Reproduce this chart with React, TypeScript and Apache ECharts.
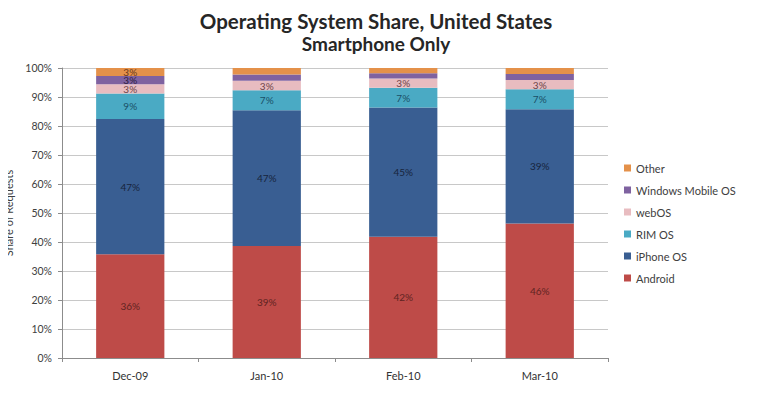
import React, { useEffect, useRef } from "react";
import * as echarts from "echarts";

const categories = ["Dec-09", "Jan-10", "Feb-10", "Mar-10"];
const android = [35.8, 38.6, 41.8, 46.4];
const iphone = [46.6, 46.8, 44.6, 39.4];
const rim = [8.8, 6.9, 6.8, 6.9];
const webos = [3.2, 3.3, 3.2, 3.2];
const winmo = [2.8, 2.2, 1.8, 2.0];
const other = [2.8, 2.2, 1.8, 2.1];
const yTicks = [0, 10, 20, 30, 40, 50, 60, 70, 80, 90, 100];

const FONT = "Lato, 'Open Sans', sans-serif";

const seriesDefs = [
  { name: "Android", data: android, color: "#be4b48", label: "#5e2422" },
  { name: "iPhone OS", data: iphone, color: "#395e92", label: "#17243c" },
  { name: "RIM OS", data: rim, color: "#4aaac4", label: "#1a4f66" },
  { name: "webOS", data: webos, color: "#e8bcc0", label: "#6e4448" },
  { name: "Windows Mobile OS", data: winmo, color: "#7f62a0", label: "#2e2040" },
  { name: "Other", data: other, color: "#e4914a", label: "#6a3a1a" },
];

export default function App() {
  const ref = useRef<HTMLDivElement>(null);
  useEffect(() => {
    if (!ref.current) return;
    const chart = echarts.init(ref.current, null, { renderer: "svg" });
    chart.setOption({
      animation: false,
      backgroundColor: "#ffffff",
      textStyle: { fontFamily: FONT },
      title: {
        text: "Operating System Share, United States",
        subtext: "Smartphone Only",
        left: 371,
        top: 5,
        textAlign: "center",
        itemGap: 3,
        textStyle: { fontFamily: FONT, fontSize: 20.5, fontWeight: "bold", color: "#262626" },
        subtextStyle: { fontFamily: FONT, fontSize: 19, fontWeight: "bold", color: "#262626" },
      },
      legend: {
        orient: "vertical",
        left: 619,
        top: 156,
        itemWidth: 7,
        itemHeight: 7,
        itemGap: 8,
        icon: "rect",
        data: ["Other", "Windows Mobile OS", "webOS", "RIM OS", "iPhone OS", "Android"],
        textStyle: { fontFamily: FONT, fontSize: 11, color: "#404040", lineHeight: 14 },
      },
      grid: { left: 62, right: 172, top: 68, bottom: 42, containLabel: false, outerBoundsMode: "none" },
      xAxis: {
        type: "category",
        data: categories,
        axisLine: { lineStyle: { color: "#8c8c8c" } },
        axisTick: { show: true, alignWithLabel: false, length: 4, lineStyle: { color: "#8c8c8c" } },
        axisLabel: { fontFamily: FONT, fontSize: 11, color: "#333333", margin: 12 },
      },
      yAxis: {
        type: "value",
        min: 0,
        max: 100,
        interval: 10,
        name: "Share of Requests",
        nameLocation: "middle",
        nameGap: 45,
        nameTextStyle: { fontFamily: FONT, fontSize: 11, color: "#404040" },
        axisLine: { show: true, lineStyle: { color: "#8c8c8c" } },
        axisTick: { show: true, length: 4, lineStyle: { color: "#8c8c8c" } },
        axisLabel: {
          fontFamily: FONT,
          fontSize: 10.5,
          color: "#404040",
          margin: 10,
          formatter: (v: number) => (yTicks.includes(v) ? v + "%" : ""),
        },
        splitLine: { lineStyle: { color: "#c8c8c8" } },
      },
      series: seriesDefs.map((s) => ({
        name: s.name,
        type: "bar",
        stack: "total",
        barWidth: "50%",
        data: s.data,
        itemStyle: { color: s.color },
        label: {
          show: true,
          position: "inside",
          fontFamily: FONT,
          fontSize: 10,
          color: s.label,
          formatter: (p: any) => (p.value >= 2.5 ? Math.round(p.value) + "%" : ""),
        },
      })),
    });
    return () => chart.dispose();
  }, []);
  return <div ref={ref} style={{ width: 780, height: 400, margin: "-8px 0 0 -8px" }} />;
}
